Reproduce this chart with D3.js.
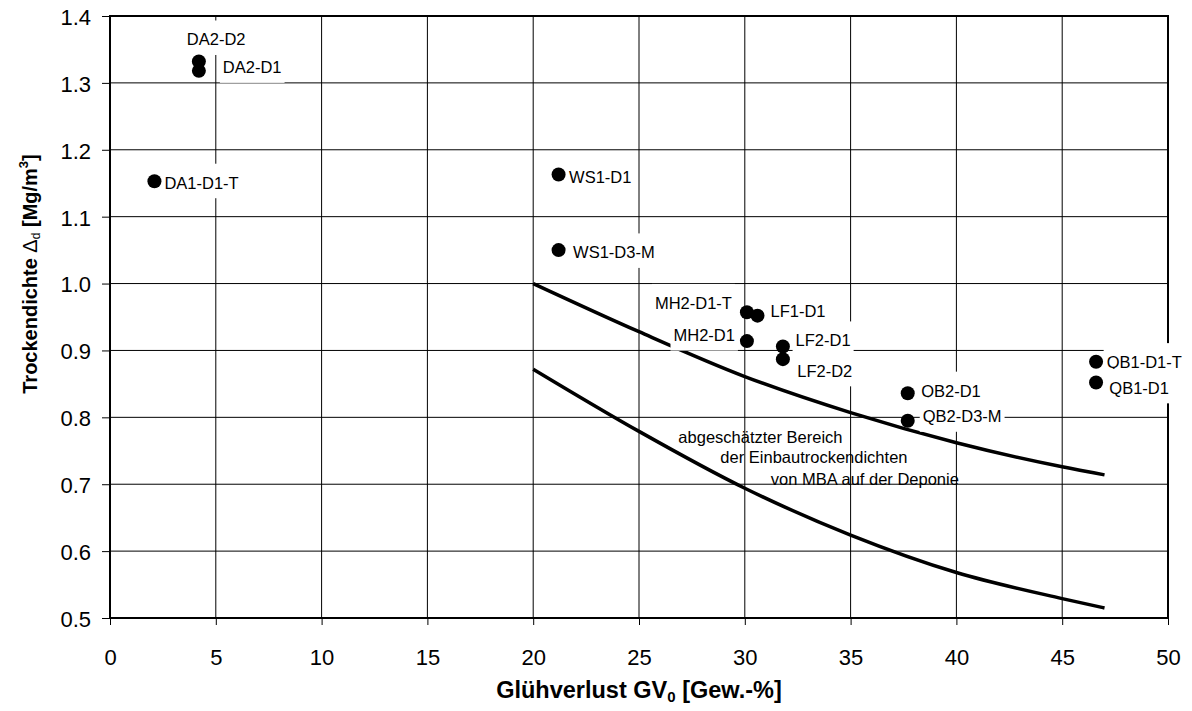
<!DOCTYPE html>
<meta charset="utf-8">
<style>
  body { margin: 0; background: #fff; }
  text { font-family: "Liberation Sans", Arial, sans-serif; fill: #000; }
</style>
<body>
<div id="chart"></div>

<script src="https://d3js.org/d3.v7.min.js"></script>
<script>

// ---- data ----
var xTicks = [0, 5, 10, 15, 20, 25, 30, 35, 40, 45, 50];
var yTicks = [0.5, 0.6, 0.7, 0.8, 0.9, 1.0, 1.1, 1.2, 1.3, 1.4];

var sampleNames   = ["DA2-D2", "DA2-D1", "DA1-D1-T", "WS1-D1", "WS1-D3-M", "MH2-D1-T", "LF1-D1",
                     "MH2-D1", "LF2-D1", "LF2-D2", "QB2-D1", "QB2-D3-M", "QB1-D1-T", "QB1-D1"];
var sampleGV      = [4.2, 4.2, 2.1, 21.2, 21.2, 30.1, 30.6, 30.1, 31.8, 31.8, 37.7, 37.7, 46.6, 46.6];
var sampleDensity = [1.332, 1.318, 1.153, 1.163, 1.050, 0.957, 0.952, 0.914, 0.906, 0.887, 0.836, 0.795, 0.883, 0.852];

var curveGV      = [20, 25, 30, 35, 40, 45, 47];
var upperDensity = [1.000, 0.928, 0.861, 0.807, 0.762, 0.726, 0.714];
var lowerDensity = [0.872, 0.779, 0.694, 0.624, 0.568, 0.529, 0.515];

var noteLines = ["abgeschätzter Bereich", "der Einbautrockendichten", "von MBA auf der Deponie"];

// ---- layout ----
var W = 1192, H = 711;
var plotL = 110, plotR = 1168, plotT = 16, plotB = 618;

var svg = d3.select("#chart")
  .append("svg")
    .attr("width", W)
    .attr("height", H);

var x = d3.scaleLinear().domain([0, 50]).range([plotL, plotR]);
var y = d3.scaleLinear().domain([0.5, 1.4]).range([plotB, plotT]);

// gridlines
svg.append("g")
  .selectAll("line")
  .data(xTicks)
  .enter().append("line")
    .attr("x1", function(d) { return x(d); })
    .attr("x2", function(d) { return x(d); })
    .attr("y1", plotT).attr("y2", plotB)
    .style("stroke", "#000").style("stroke-width", 1);

svg.append("g")
  .selectAll("line")
  .data(yTicks)
  .enter().append("line")
    .attr("x1", plotL).attr("x2", plotR)
    .attr("y1", function(d) { return y(d); })
    .attr("y2", function(d) { return y(d); })
    .style("stroke", "#000").style("stroke-width", 1);

// axes
var yAxis = svg.append("g")
  .attr("transform", "translate(" + plotL + ",0)")
  .call(d3.axisLeft(y).tickValues(yTicks).tickSize(8).tickPadding(11).tickFormat(d3.format(".1f")));
yAxis.select(".domain").remove();
yAxis.selectAll("text").style("font-size", "22px").attr("dy", "0.38em");
yAxis.selectAll("line").style("stroke", "#000");

var xAxis = svg.append("g")
  .attr("transform", "translate(0," + plotB + ")")
  .call(d3.axisBottom(x).tickValues(xTicks).tickSize(7).tickPadding(24).tickFormat(d3.format("d")));
xAxis.select(".domain").remove();
xAxis.selectAll("text").style("font-size", "22px");
xAxis.selectAll("line").style("stroke", "#000");

// frame
svg.append("rect")
  .attr("x", plotL).attr("y", plotT)
  .attr("width", plotR - plotL).attr("height", plotB - plotT)
  .style("fill", "none").style("stroke", "#000").style("stroke-width", 2);

// estimated range curves
var line = d3.line()
  .x(function(d) { return x(d[0]); })
  .y(function(d) { return y(d[1]); })
  .curve(d3.curveMonotoneX);

[upperDensity, lowerDensity].forEach(function(vals) {
  svg.append("path")
    .datum(d3.zip(curveGV, vals))
    .attr("d", line)
    .style("fill", "none")
    .style("stroke", "#000")
    .style("stroke-width", 3.5);
});

// annotation (no background)
var note = svg.append("g")
  .attr("transform", "translate(" + x(26.86) + "," + y(0.762) + ")");
var noteShift = [[0, 0], [42, 20.5], [92.5, 42.5]];
noteLines.forEach(function(t, i) {
  note.append("text")
    .attr("x", noteShift[i][0]).attr("y", noteShift[i][1])
    .style("font-size", "16.5px")
    .text(t);
});

// point labels: offset from dot (px) and anchor
var labelPos = {
  "DA2-D2":   [-12, -16, "start"],
  "DA2-D1":   [24, 2.5, "start"],
  "DA1-D1-T": [10, 7.5, "start"],
  "WS1-D1":   [10.5, 8, "start"],
  "WS1-D3-M": [14.5, 8.3, "start"],
  "MH2-D1-T": [-15, -3.4, "end"],
  "LF1-D1":   [13, 1, "start"],
  "MH2-D1":   [-12, 0, "end"],
  "LF2-D1":   [12.7, 0, "start"],
  "LF2-D2":   [14.4, 17.7, "start"],
  "QB2-D1":   [13.4, 3.4, "start"],
  "QB2-D3-M": [15, 1.6, "start"],
  "QB1-D1-T": [10.6, 6.3, "start"],
  "QB1-D1":   [13.3, 11.3, "start"]
};

var points = sampleNames.map(function(n, i) {
  return { name: n, gv: sampleGV[i], rho: sampleDensity[i] };
});

var labels = svg.append("g");
points.forEach(function(d) {
  var p = labelPos[d.name];
  var g = labels.append("g");
  var bx = g.append("rect").style("fill", "#fff");
  var t = g.append("text")
    .attr("x", x(d.gv) + p[0])
    .attr("y", y(d.rho) + p[1])
    .attr("text-anchor", p[2])
    .style("font-size", "16.5px")
    .text(d.name);
  var bb = t.node().getBBox();
  var base = y(d.rho) + p[1];
  bx.attr("x", bb.x - 3).attr("width", bb.width + 6)
    .attr("y", base - 25).attr("height", 34.5);
});

// dots
svg.append("g")
  .selectAll("circle")
  .data(points)
  .enter().append("circle")
    .attr("cx", function(d) { return x(d.gv); })
    .attr("cy", function(d) { return y(d.rho); })
    .attr("r", 7)
    .style("fill", "#000");

// axis titles
var xt = svg.append("text")
  .attr("x", (plotL + plotR) / 2)
  .attr("y", 698)
  .attr("text-anchor", "middle")
  .style("font-size", "23.5px")
  .style("font-weight", "bold");
xt.append("tspan").text("Glühverlust GV");
xt.append("tspan").attr("dy", 4).style("font-size", "15px").text("0");
xt.append("tspan").attr("dy", -4).text(" [Gew.-%]");

var yt = svg.append("text")
  .attr("transform", "translate(37,274) rotate(-90)")
  .attr("text-anchor", "middle")
  .style("font-size", "20px")
  .style("font-weight", "bold");
yt.append("tspan").text("Trockendichte ");
yt.append("tspan").style("font-weight", "normal").text("Δ");
yt.append("tspan").attr("dy", 3).style("font-size", "12px").style("font-weight", "normal").text("d");
yt.append("tspan").attr("dy", -3).text(" [Mg/m");
yt.append("tspan").attr("dy", -9).style("font-size", "13px").text("3");
yt.append("tspan").attr("dy", 9).text("]");

</script>
</body>
